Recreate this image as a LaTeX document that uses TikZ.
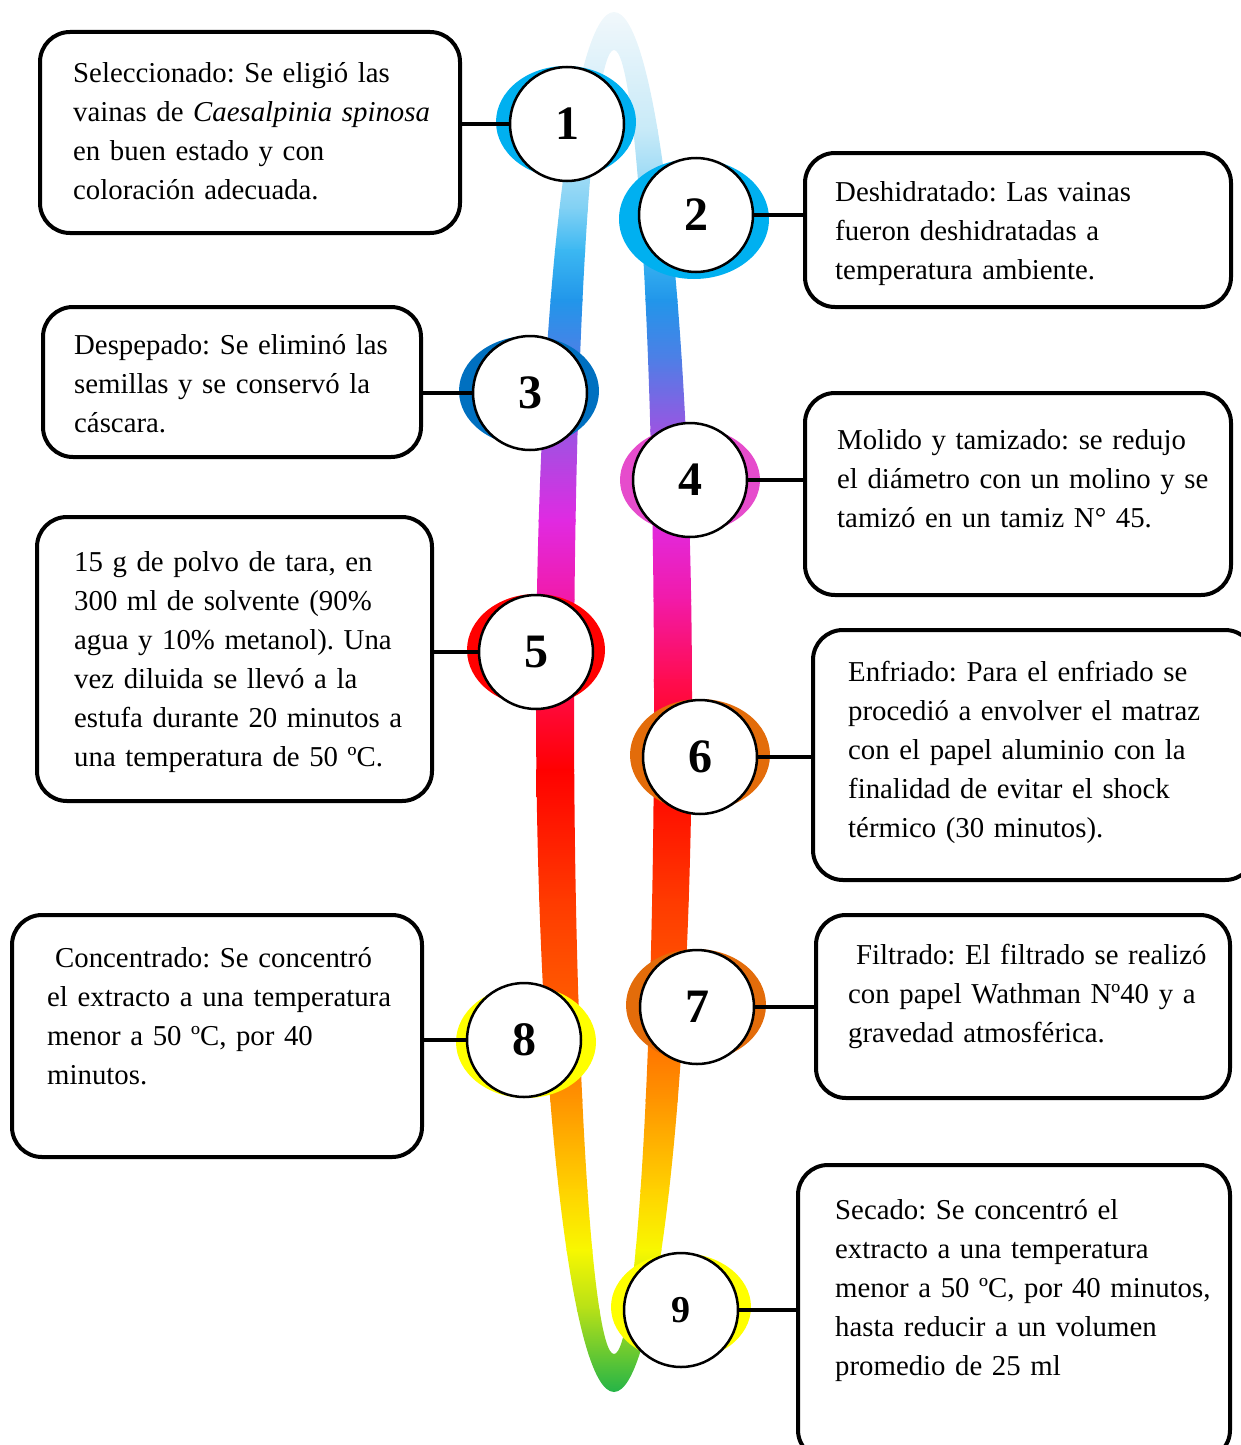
\documentclass[tikz,border=0pt]{standalone}
\usepackage{fontspec}
\setmainfont{Liberation Serif}
% ring colours, top to bottom
\definecolor{rb0}{HTML}{F2F8FB}
\definecolor{rb1}{HTML}{C8EAF8}
\definecolor{rb2}{HTML}{7FD0F4}
\definecolor{rb3}{HTML}{3CB8F2}
\definecolor{rb4}{HTML}{2196EA}
\definecolor{rb5}{HTML}{4F7EE6}
\definecolor{rb6}{HTML}{9A55E2}
\definecolor{rb7}{HTML}{E02AE2}
\definecolor{rb8}{HTML}{F21AA8}
\definecolor{rb9}{HTML}{FF0C50}
\definecolor{rb10}{HTML}{FF0000}
\definecolor{rb11}{HTML}{FF3A00}
\definecolor{rb12}{HTML}{FF5A00}
\definecolor{rb13}{HTML}{FF9400}
\definecolor{rb14}{HTML}{FFD200}
\definecolor{rb15}{HTML}{F8F800}
\definecolor{rb16}{HTML}{B5E018}
\definecolor{rb17}{HTML}{1EB24A}
% colours behind the numbers
\definecolor{blobA}{HTML}{00B0F0}
\definecolor{blobB}{HTML}{0070C0}
\definecolor{blobC}{HTML}{E64CCC}
\definecolor{blobD}{HTML}{FF0000}
\definecolor{blobE}{HTML}{E36C0A}
\definecolor{blobF}{HTML}{FFFF00}
\newcommand{\boxfont}{\fontsize{28.8}{39}\selectfont\frenchspacing}
% one justified line of a box text
\newcommand{\fl}[1]{\makebox[\hsize][s]{#1}\par}
\tikzset{stage node/.style={circle, draw, line width=2.5pt, fill=white, minimum size=114pt, inner sep=0pt, font=\fontsize{48}{48}\selectfont\bfseries},
    info box/.style={draw, line width=4pt, rounded corners=30pt, fill=white},
    info text/.style={anchor=base west, inner sep=0pt, font=\boxfont},
    link/.style={line width=4.5pt},}

\begin{document}
\begin{tikzpicture}[x=1pt, y=-1pt]
    \useasboundingbox (0,0) rectangle (1241,1445);
    % Ring
    \begin{scope}[even odd rule]
        \clip (614,702) ellipse (78 and 690) (614,702) ellipse (40 and 652);
        \foreach \ya/\ca/\yb/\cb in {10/rb0/130/rb1, 130/rb1/210/rb2, 210/rb2/250/rb3, 250/rb3/300/rb4,
            300/rb4/360/rb5, 360/rb5/430/rb6, 430/rb6/520/rb7, 520/rb7/600/rb8, 600/rb8/680/rb9,
            680/rb9/770/rb10, 770/rb10/900/rb11, 900/rb11/1000/rb12, 1000/rb12/1100/rb13,
            1100/rb13/1190/rb14, 1190/rb14/1250/rb15, 1250/rb15/1310/rb16, 1310/rb16/1395/rb17}
            \shade[top color=\ca, bottom color=\cb] (520,\ya-1) rectangle (710,\yb+1);
    \end{scope}
    % Numbers
    \foreach \n/\x/\y/\ex/\ey/\rx/\ry/\col in {1/567/124/566/122/70/56/blobA, 2/696/215/694/219/75/60/blobA,
        3/530/393/529/391/70/55/blobB, 4/690/480/690/480/70/53/blobC, 5/536/652/536/650/69/56/blobD,
        6/700/757/700/755/70/56/blobE, 7/697/1007/696/1005/70/56/blobE, 8/524/1040/526/1042/70/56/blobF} {
        \fill[\col] (\ex,\ey) ellipse [x radius=\rx, y radius=\ry];
        \node[stage node] (c\n) at (\x,\y) {\n};
    }
    \fill[blobF] (681,1307) ellipse (70 and 54);
    \node[stage node, font=\fontsize{38}{38}\selectfont\bfseries] (c9) at (681,1310) {9};
    % Boxes
    \node[info box, minimum width=420, minimum height=201] (b1) at (250,132.5) {};
    \node[info box, minimum width=426, minimum height=154] (b2) at (1018,230) {};
    \node[info box, minimum width=378, minimum height=150] (b3) at (232,382) {};
    \node[info box, minimum width=426, minimum height=202] (b4) at (1018,494) {};
    \node[info box, minimum width=395, minimum height=284] (b5) at (234.5,659) {};
    \node[info box, minimum width=442, minimum height=250] (b6) at (1034,755) {};
    \node[info box, minimum width=414, minimum height=183] (b7) at (1023,1006.5) {};
    \node[info box, minimum width=410, minimum height=242] (b8) at (217,1036) {};
    \node[info box, minimum width=432, minimum height=295] (b9) at (1014,1312.5) {};
    % Texts
    \node[info text, text width=354pt] (t1) at (73,82) {\fl{Seleccionado: Se eligió las}\fl{vainas de \textit{Caesalpinia spinosa}}\fl{en buen estado y con}coloración adecuada.};
    \node[info text, text width=365pt] (t2) at (835,201) {\fl{Deshidratado: Las vainas}\fl{fueron deshidratadas a}temperatura ambiente.};
    \node[info text, text width=316pt] (t3) at (74,354) {\fl{Despepado: Se eliminó las}\fl{semillas y se conservó la}cáscara.};
    \node[info text, text width=361pt] (t4) at (837,449) {\fl{Molido y tamizado: se redujo}\fl{el diámetro con un molino y se}tamizó en un tamiz N° 45.};
    \node[info text, text width=321pt] (t5) at (74,571) {\fl{15 g de polvo de tara, en}\fl{300 ml de solvente (90\%}\fl{agua y 10\% metanol). Una}\fl{vez diluida se llevó a la}\fl{estufa durante 20 minutos a}una temperatura de 50 ºC.};
    \node[info text, text width=365pt] (t6) at (848,681) {\fl{Enfriado: Para el enfriado se}\fl{procedió a envolver el matraz}\fl{con el papel aluminio con la}\fl{finalidad de evitar el shock}térmico (30 minutos).};
    \node[info text, text width=350pt] (t7) at (848,964) {\fl{\hspace*{8pt}Filtrado: El filtrado se realizó}\fl{con papel Wathman Nº40 y a}gravedad atmosférica.};
    \node[info text, text width=340pt] (t8) at (47,967) {\fl{\hspace*{8pt}Concentrado: Se concentró}\fl{el extracto a una temperatura}\fl{menor a 50 ºC, por 40}minutos.};
    \node[info text, text width=359pt] (t9) at (835,1219) {\fl{Secado: Se concentró el}\fl{extracto a una temperatura}\fl{menor a 50 ºC, por 40 minutos,}\fl{hasta reducir a un volumen}promedio de 25 ml};
    % Links
    \draw[link] (b1.east |- c1.west) -- (c1.west);
    \draw[link] (c2.east) -- (c2.east -| b2.west);
    \draw[link] (b3.east |- c3.west) -- (c3.west);
    \draw[link] (c4.east) -- (c4.east -| b4.west);
    \draw[link] (b5.east |- c5.west) -- (c5.west);
    \draw[link] (c6.east) -- (c6.east -| b6.west);
    \draw[link] (c7.east) -- (c7.east -| b7.west);
    \draw[link] (b8.east |- c8.west) -- (c8.west);
    \draw[link] (c9.east) -- (c9.east -| b9.west);
\end{tikzpicture}
\end{document}
